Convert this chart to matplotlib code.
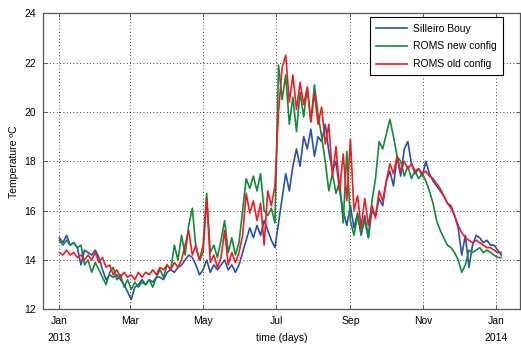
import numpy as np
import matplotlib
matplotlib.use("Agg")
import matplotlib.pyplot as plt

plt.rcParams['font.family'] = ['Liberation Sans', 'DejaVu Sans']

# sample days since 1 Jan 2013 (every 3 days)
days = np.arange(0, 372, 3)

buoy = [14.9, 14.7, 15.0, 14.6, 14.7, 14.5, 13.8, 14.4, 14.3, 14.2,
        14.4, 14.1, 13.6, 13.2, 13.4, 13.3, 13.4, 13.2, 13.0, 12.7,
        12.4, 12.9, 13.0, 13.2, 13.0, 13.2, 13.1, 13.3, 13.3, 13.2,
        13.5, 13.6, 13.5, 13.7, 13.8, 14.0, 14.2, 14.1, 13.8, 13.4,
        13.6, 14.0, 13.5, 13.8, 13.6, 13.8, 14.0, 13.6, 13.8, 13.5,
        13.8, 14.3, 14.8, 15.3, 14.9, 15.4, 15.0, 15.6, 15.2, 14.8,
        14.5, 15.5, 16.5, 17.5, 16.8, 17.8, 18.5, 17.8, 19.0, 18.5,
        19.3, 18.2, 19.0, 18.8, 19.5, 18.4, 17.6, 18.0, 16.8, 16.0,
        15.4, 16.2, 15.3, 15.9, 15.0, 15.8, 14.9, 16.0, 15.8, 16.5,
        16.2, 17.2, 17.6, 17.0, 18.2, 17.4, 18.5, 18.8, 17.9, 17.5,
        17.7, 17.4, 18.0, 17.5, 17.2, 17.0, 16.8, 16.6, 16.3, 16.2,
        15.8, 15.3, 14.2, 15.0, 13.7, 14.6, 15.0, 14.9, 14.7, 14.8,
        14.6, 14.6, 14.4, 14.2]

roms_new = [14.8, 14.6, 14.8, 14.6, 14.7, 14.5, 14.6, 13.8, 14.0, 13.5,
            13.9, 13.6, 13.3, 13.0, 13.5, 13.7, 13.2, 13.4, 12.9, 13.2,
            12.8, 13.1, 12.9, 13.1, 13.0, 13.2, 12.9, 13.3, 13.6, 13.3,
            13.8, 13.6, 14.6, 14.0, 15.0, 14.2, 15.4, 16.1, 14.5, 14.0,
            14.6, 16.7, 14.3, 14.6, 14.1, 14.8, 15.6, 14.3, 14.9, 14.2,
            14.7, 16.0, 17.3, 16.9, 17.4, 16.8, 17.5, 16.0, 15.8, 16.1,
            15.5, 21.9, 20.5, 21.5, 19.5, 20.6, 19.2, 20.8, 19.8, 21.0,
            19.6, 21.1, 19.9, 19.0, 18.0, 16.8, 17.5, 16.7, 17.2, 15.5,
            18.4, 15.6, 15.0, 15.8, 15.1, 15.6, 14.9, 16.4, 17.3, 18.8,
            18.5, 19.1, 19.7, 19.0, 18.2, 18.0, 17.4, 17.8, 17.3, 17.6,
            17.3, 17.5, 17.2, 16.8, 16.3, 15.6, 15.2, 14.9, 14.6, 14.5,
            14.3, 14.0, 13.5, 13.8, 14.4, 14.3, 14.4, 14.5, 14.3, 14.4,
            14.3, 14.2, 14.1, 14.1]

roms_old = [14.3, 14.2, 14.4, 14.2, 14.3, 14.1, 14.2, 14.0, 14.2, 14.0,
            14.3, 13.9, 14.1, 13.7, 13.8, 13.4, 13.6, 13.3, 13.5, 13.3,
            13.4, 13.2, 13.5, 13.3, 13.5, 13.4, 13.6, 13.4, 13.7, 13.6,
            13.8, 13.6, 13.9, 13.7, 14.0, 14.6, 15.2, 14.2, 14.6, 14.0,
            14.3, 16.5, 13.9, 14.2, 13.7, 14.1, 15.2, 13.8, 14.3, 13.9,
            14.3, 15.0, 16.7, 15.9, 16.4, 15.6, 16.3, 14.6, 16.8, 16.2,
            17.0, 20.0, 21.8, 22.3, 20.4, 21.5, 20.1, 21.2, 20.3, 21.0,
            19.6, 20.8, 19.5, 20.2, 18.7, 19.5, 17.4, 18.6, 16.8, 18.3,
            16.4, 18.9, 16.0, 16.6, 15.3, 16.5, 15.4, 16.2, 15.7, 16.8,
            16.4, 17.2, 17.9, 17.5, 18.2, 17.6, 18.0, 17.7, 17.9, 17.6,
            17.7, 17.5, 17.6, 17.4, 17.3, 17.1, 16.9, 16.6, 16.3, 16.1,
            15.8, 15.4, 15.1, 14.9, 14.8, 14.7, 14.8, 14.7, 14.6, 14.5,
            14.5, 14.4, 14.3, 14.3]

tick_days = [0, 59, 120, 181, 243, 304, 365]
tick_labels = ["Jan\n2013", "Mar", "May", "Jul", "Sep", "Nov", "Jan\n2014"]

fig = plt.figure(figsize=(5.21, 3.45), dpi=100)
ax = fig.add_axes([0.082, 0.1035, 0.916, 0.858])

ax.plot(days, buoy, color="#2b4fad", lw=1.2, label="Silleiro Bouy")
ax.plot(days, roms_new, color="#13893a", lw=1.2, label="ROMS new config")
ax.plot(days, roms_old, color="#f01c24", lw=1.2, label="ROMS old config")

ax.set_xlim(-13.9, 384.6)
ax.set_ylim(12, 24)
ax.set_yticks(np.arange(12, 25, 2))
ax.set_xticks(tick_days)
ax.set_xticklabels(tick_labels, linespacing=1.8)
ax.tick_params(direction="in", top=True, right=True, labelsize=7.5,
               length=3, width=0.6, color="#444444", pad=5)
for sp in ax.spines.values():
    sp.set_color("#555555")
    sp.set_linewidth(0.9)
ax.grid(True, color="black", linestyle=(0, (1, 3)), linewidth=0.6)

ax.set_xlabel("time (days)", fontsize=7.5)
ax.xaxis.set_label_coords(0.5, -0.08)
ax.set_ylabel("Temperature ºC", fontsize=7.5)
ax.yaxis.set_label_coords(-0.05, 0.5)

leg = ax.legend(loc="upper right", bbox_to_anchor=(0.9644, 0.9865),
                borderaxespad=0, fontsize=7.5, fancybox=False,
                edgecolor="black", framealpha=1, handlelength=3.0,
                handletextpad=0.55, borderpad=0.6, labelspacing=0.75)
leg.get_frame().set_linewidth(0.8)

fig.savefig("out.png", dpi=100)
